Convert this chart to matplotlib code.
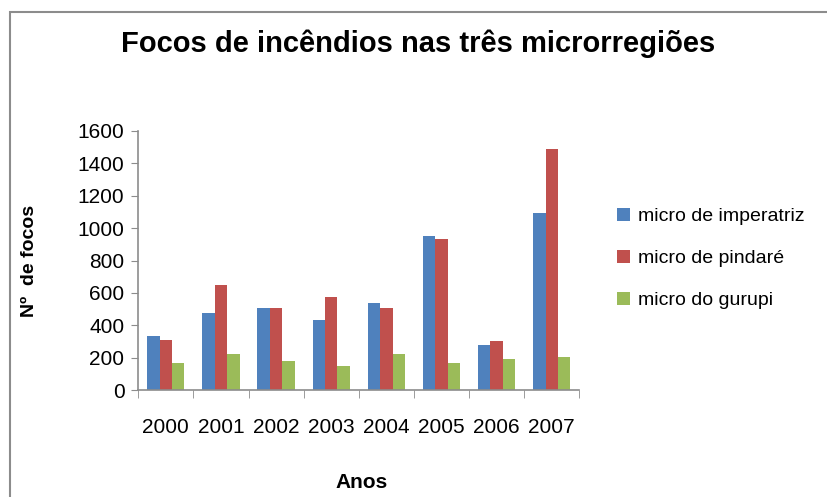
import numpy as np
import matplotlib.pyplot as plt
from matplotlib.patches import Rectangle

plt.rcParams['font.family'] = ['Liberation Sans', 'DejaVu Sans']

# Dados
anos = ['2000', '2001', '2002', '2003', '2004', '2005', '2006', '2007']
imperatriz = [335, 479, 507, 435, 538, 951, 279, 1093]
pindare = [310, 651, 507, 577, 507, 933, 304, 1487]
gurupi = [168, 224, 183, 150, 224, 168, 193, 205]
series_nomes = ['micro de imperatriz', 'micro de pindaré', 'micro do gurupi']
cores = ['#4F81BD', '#C0504D', '#9BBB59']

fig = plt.figure(figsize=(8.27, 4.97), dpi=100)
fig.patches.append(Rectangle((9.5 / 827, -0.1), 1.2, (497 - 12) / 497 + 0.1,
                             transform=fig.transFigure, fill=False,
                             edgecolor='#8c8c8c', linewidth=1.5))

ax = fig.add_axes([0.1672, 0.2147, 0.5333, 0.5223])

x = np.arange(len(anos))
w = 0.225
for i, (vals, nome, cor) in enumerate(zip([imperatriz, pindare, gurupi], series_nomes, cores)):
    ax.bar(x + (i - 1) * w, vals, width=w, color=cor, label=nome)

ax.set_xlim(-0.5, len(anos) - 0.5)
ax.set_ylim(0, 1600)
ax.set_yticks(range(0, 1601, 200))
ax.set_xticks(x)
ax.set_xticklabels(anos, fontsize=15)
ax.tick_params(axis='y', labelsize=15, length=5, color='#8c8c8c', pad=5)
ax.tick_params(axis='x', length=0, pad=20)
ax.set_xticks(np.arange(-0.5, len(anos)), minor=True)
ax.tick_params(axis='x', which='minor', length=6, color='#8c8c8c')

for s in ['top', 'right']:
    ax.spines[s].set_visible(False)
for s in ['left', 'bottom']:
    ax.spines[s].set_color('#8c8c8c')
    ax.spines[s].set_linewidth(1.2)

fig.text(418 / 827, 1 - 44 / 497, 'Focos de incêndios nas três microrregiões',
         ha='center', va='center', fontsize=21, fontweight='bold')
fig.text(30 / 827, 1 - 261 / 497, 'Nº  de focos', rotation=90,
         ha='center', va='center', fontsize=14, fontweight='bold')
fig.text(362 / 827, 1 - 483 / 497, 'Anos', ha='center', va='center',
         fontsize=15, fontweight='bold')

ax.legend(loc='upper left', bbox_to_anchor=(609 / 827, 1 - 200 / 497),
          bbox_transform=fig.transFigure, frameon=False, fontsize=14,
          handlelength=0.7, handleheight=0.7, handletextpad=0.4,
          labelspacing=1.25, borderaxespad=0)

fig.savefig('out.png', dpi=100)
